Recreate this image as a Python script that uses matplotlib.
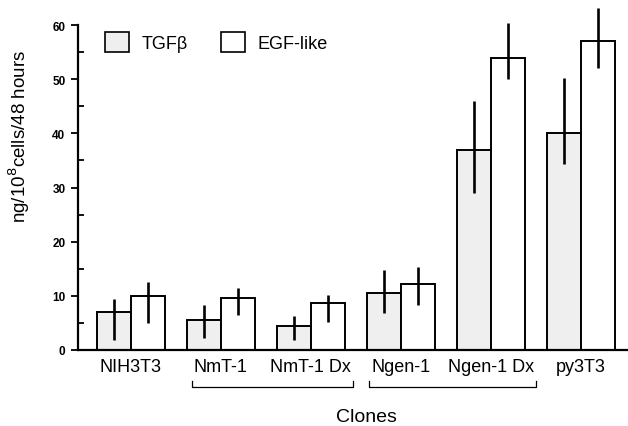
import numpy as np
import matplotlib
matplotlib.use("Agg")
import matplotlib.pyplot as plt
from matplotlib.patches import Patch
from matplotlib.transforms import blended_transform_factory

plt.rcParams["font.family"] = ["Liberation Sans", "DejaVu Sans"]

# Datos
clones = ["NIH3T3", "NmT-1", "NmT-1 Dx", "Ngen-1", "Ngen-1 Dx", "py3T3"]
tgf = [7.0, 5.5, 4.5, 10.5, 37.0, 40.0]
tgf_err_inf = [5.2, 3.2, 2.7, 3.7, 8.1, 5.7]
tgf_err_sup = [2.5, 2.8, 1.8, 4.2, 8.9, 10.2]
egf = [10.0, 9.6, 8.6, 12.1, 54.0, 57.0]
egf_err_inf = [5.0, 3.1, 3.4, 3.8, 4.0, 4.9]
egf_err_sup = [2.6, 1.8, 1.6, 3.2, 6.3, 6.1]
grupos = [(1, 2), (3, 4)]  # índices de clones unidos por corchete

fig = plt.figure(figsize=(6.28, 4.27), dpi=100)
ax = fig.add_axes([0.1242, 0.178, 0.8758, 0.761])

x = np.arange(len(clones))
ancho = 0.378

ax.bar(x - ancho / 2, tgf, ancho, color="#efefef", edgecolor="black", linewidth=1.4, zorder=2)
ax.bar(x + ancho / 2, egf, ancho, color="white", edgecolor="black", linewidth=1.4, zorder=2)
ax.errorbar(x - ancho / 2, tgf, yerr=[tgf_err_inf, tgf_err_sup], fmt="none",
            ecolor="black", elinewidth=1.9, capsize=0, zorder=3, clip_on=False)
ax.errorbar(x + ancho / 2, egf, yerr=[egf_err_inf, egf_err_sup], fmt="none",
            ecolor="black", elinewidth=1.9, capsize=0, zorder=3, clip_on=False)

ax.set_xlim(-0.586, 5.526)
ax.set_ylim(0, 60)
ax.set_yticks(np.arange(0, 61, 10))
ax.set_yticks(np.arange(5, 60, 10), minor=True)
for t in ax.get_yticklabels():
    t.set_fontweight("bold")
ax.tick_params(axis="y", which="major", direction="out", length=5, width=1.3, labelsize=8.5, pad=4)
ax.tick_params(axis="y", which="minor", direction="in", length=4, width=1.3)
ax.set_xticks(x)
ax.set_xticklabels(clones, fontsize=13)
ax.tick_params(axis="x", length=0, pad=6)

for lado in ("top", "right"):
    ax.spines[lado].set_visible(False)
ax.spines["left"].set_linewidth(1.6)
ax.spines["bottom"].set_linewidth(1.6)

ax.set_ylabel("ng/10$^8$cells/48 hours", fontsize=13.5)
ax.yaxis.set_label_coords(-0.083, 0.66)
ax.set_xlabel("Clones", fontsize=14)
ax.xaxis.set_label_coords(0.524, -0.18)

# Corchetes bajo las etiquetas de los clones
fig.canvas.draw()
etiquetas = ax.get_xticklabels()
trans = blended_transform_factory(ax.transData, ax.transAxes)
inv = ax.transData.inverted()
for a, b in grupos:
    ext_a = etiquetas[a].get_window_extent()
    ext_b = etiquetas[b].get_window_extent()
    x0 = inv.transform((ext_a.x0 - 2, 0))[0]
    x1 = inv.transform((ext_b.x1 + 2, 0))[0]
    ax.plot([x0, x0, x1, x1], [-0.095, -0.114, -0.114, -0.095], color="black",
            linewidth=0.9, transform=trans, clip_on=False)

leyenda = [Patch(facecolor="#efefef", edgecolor="black", linewidth=1.2, label="TGFβ"),
           Patch(facecolor="white", edgecolor="black", linewidth=1.2, label="EGF-like")]
ax.legend(handles=leyenda, loc="upper left", bbox_to_anchor=(0.049, 0.98), ncol=2,
          frameon=False, fontsize=13, handlelength=1.35, handleheight=1.4,
          handletextpad=0.7, columnspacing=1.8, borderaxespad=0, borderpad=0)

fig.savefig("out.png", dpi=100)
